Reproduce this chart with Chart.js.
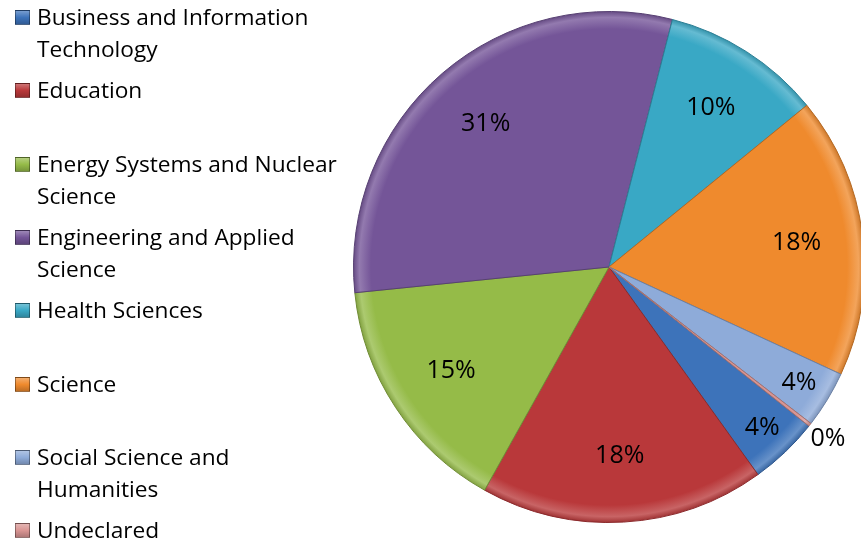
<!DOCTYPE html>
<html>
<head>
<meta charset="utf-8">
<script src="https://cdn.jsdelivr.net/npm/chart.js@4.4.0/dist/chart.umd.min.js"></script>
<style>
  html, body { margin: 0; padding: 0; width: 861px; height: 544px; overflow: hidden; background: #fff; }
  #wrap { position: relative; width: 861px; height: 544px; }
  #chart { position: absolute; left: 0; top: 0; }
  #legend { position: absolute; left: 0; top: 0; font-family: 'Open Sans', sans-serif; font-size: 22.7px; color: #000; z-index: 2; }
  .item { position: absolute; left: 15px; }
  .box { position: absolute; left: 0; top: 9px; width: 15px; height: 15px; border: 1px solid rgba(0,0,0,0.35); box-sizing: border-box; }
  .txt { position: absolute; left: 22px; top: 0; line-height: 32px; white-space: pre; }
</style>
</head>
<body>
<div id="wrap">
  <canvas id="chart" width="880" height="544"></canvas>
  <div id="legend"></div>
</div>
<script>
// faculty shares (percent)
const categories = [
  'Business and Information\nTechnology',
  'Education',
  'Energy Systems and Nuclear\nScience',
  'Engineering and Applied\nScience',
  'Health Sciences',
  'Science',
  'Social Science and\nHumanities',
  'Undeclared'
];
const shares = [4.4, 18.0, 15.3, 30.6, 10.1, 17.8, 3.6, 0.2];
const colors = ['#3d73ba', '#b9383a', '#95bb48', '#745598', '#39a8c5', '#ef8a2d', '#8eabd9', '#d99593'];

function shade(hex, amt) {
  const n = parseInt(hex.slice(1), 16);
  let r = n >> 16, g = (n >> 8) & 255, b = n & 255;
  const t = amt < 0 ? 0 : 255, p = Math.abs(amt);
  r = Math.round(r + (t - r) * p); g = Math.round(g + (t - g) * p); b = Math.round(b + (t - b) * p);
  return `rgb(${r},${g},${b})`;
}

// legend
const legend = document.getElementById('legend');
categories.forEach((c, i) => {
  const item = document.createElement('div');
  item.className = 'item';
  item.style.top = (1 + i * 73.3) + 'px';
  const box = document.createElement('div');
  box.className = 'box';
  box.style.background = `linear-gradient(${shade(colors[i], 0.3)}, ${colors[i]} 50%, ${shade(colors[i], -0.2)})`;
  const txt = document.createElement('div');
  txt.className = 'txt';
  txt.textContent = c;
  item.appendChild(box);
  item.appendChild(txt);
  legend.appendChild(item);
});

const pctLabels = {
  id: 'pctLabels',
  afterDatasetsDraw(chart) {
    const meta = chart.getDatasetMeta(0);
    const total = shares.reduce((a, b) => a + b, 0);
    const ctx = chart.ctx;
    ctx.save();
    ctx.font = '25px "Open Sans"';
    ctx.fillStyle = '#000';
    ctx.textAlign = 'center';
    ctx.textBaseline = 'middle';
    meta.data.forEach((arc, i) => {
      const p = shares[i] / total * 100;
      const { x, y, startAngle, endAngle, outerRadius } = arc.getProps(['x', 'y', 'startAngle', 'endAngle', 'outerRadius'], true);
      const mid = (startAngle + endAngle) / 2;
      const f = p < 1 ? 1.09 : p < 6 ? 0.87 : 0.74;
      ctx.fillText(Math.round(p) + '%', x + Math.cos(mid) * outerRadius * f, y + Math.sin(mid) * outerRadius * f);
    });
    ctx.restore();
  }
};

new Chart(document.getElementById('chart'), {
  type: 'pie',
  data: {
    labels: categories,
    datasets: [{
      data: shares,
      backgroundColor: ctx => {
        const a = ctx.chart.chartArea;
        const base = colors[ctx.dataIndex];
        if (!a) return base;
        const cx = (a.left + a.right) / 2, cy = (a.top + a.bottom) / 2;
        const r = Math.min(a.width, a.height) / 2;
        const g = ctx.chart.ctx.createRadialGradient(cx, cy, 0, cx, cy, r);
        g.addColorStop(0, base);
        g.addColorStop(0.93, base);
        g.addColorStop(0.975, shade(base, 0.22));
        g.addColorStop(1, shade(base, -0.15));
        return g;
      },
      borderColor: colors.map(c => shade(c, -0.25)),
      borderWidth: 1
    }]
  },
  options: {
    responsive: false,
    animation: false,
    rotation: 128.5,
    layout: { padding: { left: 353, right: 15, top: 11, bottom: 21 } },
    plugins: { legend: { display: false }, tooltip: { enabled: false } }
  },
  plugins: [pctLabels]
});
</script>
</body>
</html>
